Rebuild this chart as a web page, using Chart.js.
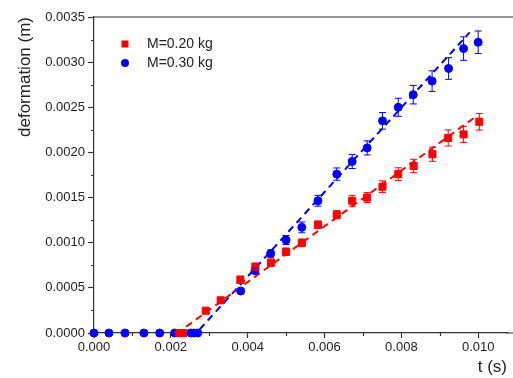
<!DOCTYPE html>
<html>
<head>
<meta charset="utf-8">
<script src="https://cdn.jsdelivr.net/npm/chart.js@4/dist/chart.umd.min.js"></script>
<style>
  html, body { margin: 0; padding: 0; background: #fff; }
  canvas { display: block; }
</style>
</head>
<body>
<canvas id="deformChart" width="513" height="378"></canvas>
<script>
// M = 0.20 kg (red squares)
const tRed = [0.00222, 0.00232, 0.00291, 0.00330, 0.00381, 0.00420, 0.00461, 0.00500, 0.00541, 0.00583,
  0.00632, 0.00672, 0.00711, 0.00751, 0.00792, 0.00832, 0.00881, 0.00922, 0.00962, 0.01003];
const dRed = [0, 0, 0.000247, 0.000362, 0.000590, 0.000734, 0.000779, 0.000900, 0.001000, 0.001200,
  0.001310, 0.001465, 0.001500, 0.001620, 0.001760, 0.001850, 0.001980, 0.002160, 0.002200, 0.002340];
const errRed = [0, 0, 0.00003, 0.00003, 0.00004, 0.00004, 0.00004, 0.00004, 0.00004, 0.00004,
  0.000045, 0.00006, 0.000055, 0.000065, 0.00007, 0.000074, 0.000078, 0.000089, 0.000089, 0.000092];

// M = 0.30 kg (blue circles)
const tBlue = [0, 0.00039, 0.00081, 0.00130, 0.00171, 0.00210, 0.00252, 0.00260, 0.00270, 0.00382,
  0.00419, 0.00460, 0.00500, 0.00541, 0.00583, 0.00632, 0.00672, 0.00711, 0.00751, 0.00792,
  0.00831, 0.00880, 0.00923, 0.00962, 0.01000];
const dBlue = [0, 0, 0, 0, 0, 0, 0, 0, 0, 0.000465,
  0.000690, 0.000880, 0.001030, 0.001170, 0.001465, 0.001760, 0.001900, 0.002050, 0.002350, 0.002500,
  0.002640, 0.002790, 0.002930, 0.003150, 0.003220];
const errBlue = [0, 0, 0, 0, 0, 0, 0, 0, 0, 0.00003,
  0.00003, 0.00004, 0.00005, 0.00006, 0.00006, 0.000068, 0.000078, 0.000078, 0.000092, 0.0001,
  0.000103, 0.000114, 0.00012, 0.00013, 0.000125];

// dashed linear fits
const fitRedT = [0.00240, 0.00998];
const fitRedD = [0.00007, 0.00241];
const fitBlueT = [0.00275, 0.00978];
const fitBlueD = [0.00004, 0.00333];

const xTicks = [0, 0.002, 0.004, 0.006, 0.008, 0.010];
const xMinor = [0.001, 0.003, 0.005, 0.007, 0.009];
const yTicks = [0, 0.0005, 0.0010, 0.0015, 0.0020, 0.0025, 0.0030, 0.0035];
const yMinor = [0.00025, 0.00075, 0.00125, 0.00175, 0.00225, 0.00275, 0.00325];

const RED = '#ff0000';
const BLUE = '#0000ff';
const AXIS = '#333333';
const FONT = '"Liberation Sans", Arial, sans-serif';

const pts = (xs, ys) => xs.map((x, i) => ({ x: x, y: ys[i] }));

// error bars, minor ticks, frame lines and the in-plot legend
const extrasPlugin = {
  id: 'extras',
  afterDatasetsDraw(chart) {
    const { ctx, scales: { x, y } } = chart;
    ctx.save();
    chart.data.datasets.forEach(ds => {
      if (!ds.errors) return;
      ctx.strokeStyle = ds.borderColor;
      ctx.lineWidth = 1;
      ds.data.forEach((p, i) => {
        const e = ds.errors[i];
        if (!e) return;
        const px = x.getPixelForValue(p.x);
        const y1 = y.getPixelForValue(p.y + e);
        const y2 = y.getPixelForValue(p.y - e);
        ctx.beginPath();
        ctx.moveTo(px, y1); ctx.lineTo(px, y2);
        ctx.moveTo(px - 3.5, y1); ctx.lineTo(px + 3.5, y1);
        ctx.moveTo(px - 3.5, y2); ctx.lineTo(px + 3.5, y2);
        ctx.stroke();
      });
    });
    ctx.restore();
  },
  afterDraw(chart) {
    const { ctx, chartArea: a, scales: { x, y } } = chart;
    ctx.save();
    ctx.strokeStyle = AXIS;
    ctx.lineWidth = 1.2;
    ctx.beginPath();
    // the frame runs on to the canvas edge
    ctx.moveTo(a.left, a.top); ctx.lineTo(chart.width, a.top);
    ctx.moveTo(a.right - 1, a.bottom); ctx.lineTo(chart.width, a.bottom);
    xMinor.forEach(v => {
      const px = Math.round(x.getPixelForValue(v)) + 0.5;
      ctx.moveTo(px, a.bottom); ctx.lineTo(px, a.bottom + 3);
    });
    yMinor.forEach(v => {
      const py = Math.round(y.getPixelForValue(v)) + 0.5;
      ctx.moveTo(a.left, py); ctx.lineTo(a.left - 3, py);
    });
    ctx.stroke();

    // legend
    const items = chart.data.datasets.filter(ds => ds.inLegend);
    ctx.font = '14px ' + FONT;
    ctx.textBaseline = 'middle';
    items.forEach((ds, i) => {
      const cx = a.left + 31;
      const cy = a.top + 27 + i * 19;
      ctx.fillStyle = ds.backgroundColor;
      if (ds.pointStyle === 'rect') {
        ctx.fillRect(cx - 3.5, cy - 3.5, 7, 7);
      } else {
        ctx.beginPath();
        ctx.arc(cx, cy, 4, 0, Math.PI * 2);
        ctx.fill();
      }
      ctx.fillStyle = '#222';
      ctx.fillText(ds.label, cx + 22, cy);
    });
    ctx.restore();
  }
};

new Chart(document.getElementById('deformChart'), {
  type: 'scatter',
  data: {
    datasets: [
      {
        label: 'M=0.20 kg',
        data: pts(tRed, dRed),
        errors: errRed,
        inLegend: true,
        pointStyle: 'rect',
        pointRadius: 5,
        borderWidth: 1,
        backgroundColor: RED,
        borderColor: RED,
        clip: false
      },
      {
        label: 'M=0.30 kg',
        data: pts(tBlue, dBlue),
        errors: errBlue,
        inLegend: true,
        pointStyle: 'circle',
        pointRadius: 4,
        borderWidth: 1,
        backgroundColor: BLUE,
        borderColor: BLUE,
        clip: false
      },
      {
        label: 'fit 0.20 kg',
        data: pts(fitRedT, fitRedD),
        showLine: true,
        pointRadius: 0,
        borderColor: RED,
        backgroundColor: RED,
        borderWidth: 2,
        borderDash: [7, 5]
      },
      {
        label: 'fit 0.30 kg',
        data: pts(fitBlueT, fitBlueD),
        showLine: true,
        pointRadius: 0,
        borderColor: BLUE,
        backgroundColor: BLUE,
        borderWidth: 2,
        borderDash: [7, 5]
      }
    ]
  },
  options: {
    responsive: false,
    devicePixelRatio: 1,
    animation: false,
    events: [],
    layout: { padding: { top: 17, right: 1, left: 0, bottom: 0 } },
    plugins: {
      legend: { display: false },
      tooltip: { enabled: false }
    },
    scales: {
      x: {
        type: 'linear',
        min: 0,
        max: 0.01075,
        afterBuildTicks: s => { s.ticks = xTicks.map(v => ({ value: v })); },
        afterFit: s => { s.height = 45; },
        ticks: {
          callback: v => v.toFixed(3),
          color: '#222',
          font: { family: FONT, size: 13 },
          padding: 2,
          maxRotation: 0
        },
        grid: { drawOnChartArea: false, drawTicks: true, tickLength: 5, tickColor: AXIS, tickWidth: 1.2 },
        border: { display: true, color: AXIS, width: 1.2 },
        title: {
          display: true,
          text: 't (s)',
          align: 'end',
          color: '#222',
          font: { family: FONT, size: 17 },
          padding: { top: 0, bottom: 0 }
        }
      },
      y: {
        type: 'linear',
        min: 0,
        max: 0.0035,
        afterBuildTicks: s => { s.ticks = yTicks.map(v => ({ value: v })); },
        afterFit: s => { s.width = 94; },
        ticks: {
          callback: v => v.toFixed(4),
          color: '#222',
          font: { family: FONT, size: 13 },
          padding: 3
        },
        grid: { drawOnChartArea: false, drawTicks: true, tickLength: 6, tickColor: AXIS, tickWidth: 1.2 },
        border: { display: true, color: AXIS, width: 1.2 },
        title: {
          display: true,
          text: 'deformation (m)',
          align: 'end',
          color: '#222',
          font: { family: FONT, size: 17 },
          padding: { top: 15, bottom: 0 }
        }
      }
    }
  },
  plugins: [extrasPlugin]
});
</script>
</body>
</html>
